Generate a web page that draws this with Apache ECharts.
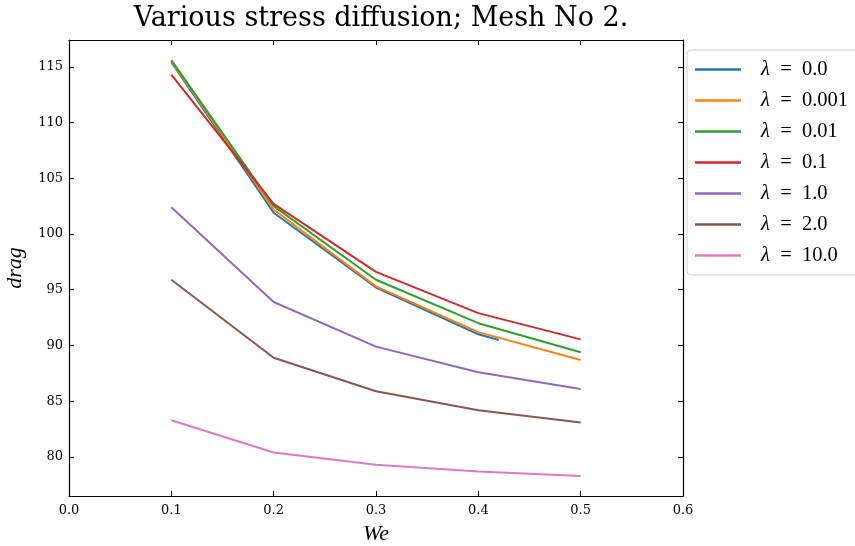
<!DOCTYPE html>
<html><head><meta charset="utf-8">
<script src="https://cdn.jsdelivr.net/npm/echarts@6/dist/echarts.min.js"></script>
<style>html,body{margin:0;padding:0;background:#fff}#c{width:855px;height:546px}</style>
</head><body><div id="c"></div>
<script>
const we = [0.1, 0.2, 0.3, 0.4, 0.5];
const weBlue = [0.1, 0.2, 0.3, 0.4, 0.42];
const lambdas = ['0.0', '0.001', '0.01', '0.1', '1.0', '2.0', '10.0'];
const drag_0 = [115.4, 101.9, 95.2, 91.0, 90.5];
const drag_0001 = [115.5, 102.2, 95.3, 91.2, 88.7];
const drag_001 = [115.6, 102.5, 95.9, 92.0, 89.4];
const drag_01 = [114.3, 102.7, 96.6, 92.9, 90.55];
const drag_1 = [102.4, 93.9, 89.9, 87.6, 86.1];
const drag_2 = [95.9, 88.9, 85.9, 84.2, 83.1];
const drag_10 = [83.3, 80.4, 79.3, 78.7, 78.3];
const yTicks = [80, 85, 90, 95, 100, 105, 110, 115];
const colors = ['#1f77b4', '#ff7f0e', '#2ca02c', '#d62728', '#9467bd', '#8c564b', '#e377c2'];

const seriesY = [drag_0, drag_0001, drag_001, drag_01, drag_1, drag_2, drag_10];
const seriesX = [weBlue, we, we, we, we, we, we];
const font = 'DejaVu Serif';

const chart = echarts.init(document.getElementById('c'));
const line = {show: true, onZero: false, lineStyle: {color: '#000', width: 1.2}};
const tick = {show: true, inside: true, length: 5, lineStyle: {color: '#000', width: 1}};
chart.setOption({
  animation: false,
  color: colors,
  title: {
    text: 'Various stress diffusion; Mesh No 2.',
    left: 376, top: 0, textAlign: 'center',
    textStyle: {fontFamily: 'DejaVu Serif', fontWeight: 'normal', fontSize: 27, color: '#000'}
  },
  legend: {
    orient: 'vertical', left: 687, top: 50,
    padding: [9, 20, 9, 8],
    backgroundColor: '#fff',
    borderColor: '#cccccc', borderWidth: 1, borderRadius: 4,
    itemWidth: 46, itemHeight: 2.5, itemGap: 10,
    icon: 'rect',
    data: lambdas.map(l => 'λ = ' + l),
    formatter: n => '{i|λ}  =  ' + n.slice(4),
    textStyle: {
      fontFamily: 'Liberation Serif', fontSize: 20.5, color: '#000', lineHeight: 21, padding: [0, 0, 0, 15],
      rich: {i: {fontFamily: 'Liberation Serif', fontStyle: 'italic', fontSize: 20.5, lineHeight: 21}}
    }
  },
  grid: {left: 69, right: 172, top: 40, bottom: 50, containLabel: false, outerBoundsMode: 'none'},
  xAxis: [
    {
      type: 'value', min: 0, max: 0.6, interval: 0.1,
      axisLine: line, axisTick: tick, splitLine: {show: false},
      name: 'We', nameLocation: 'middle', nameGap: 27,
      nameTextStyle: {fontFamily: 'Liberation Serif', fontStyle: 'italic', fontSize: 22, color: '#000'},
      axisLabel: {fontFamily: font, fontSize: 13, color: '#000', margin: 8, formatter: v => v.toFixed(1)}
    },
    {
      type: 'value', position: 'top', min: 0, max: 0.6, interval: 0.1,
      axisLine: line, axisTick: tick, splitLine: {show: false},
      axisLabel: {show: false}
    }
  ],
  yAxis: [
    {
      type: 'value', min: 76.5, max: 117.4,
      axisLine: line, splitLine: {show: false},
      name: 'drag', nameLocation: 'middle', nameGap: 43, nameRotate: 90,
      nameTextStyle: {fontFamily: 'Liberation Serif', fontStyle: 'italic', fontSize: 22, color: '#000'},
      axisTick: Object.assign({customValues: yTicks}, tick),
      axisLabel: {fontFamily: font, fontSize: 13, color: '#000', margin: 6, customValues: yTicks}
    },
    {
      type: 'value', position: 'right', min: 76.5, max: 117.4,
      axisLine: line, splitLine: {show: false},
      axisTick: Object.assign({customValues: yTicks}, tick),
      axisLabel: {show: false, customValues: yTicks}
    }
  ],
  series: seriesY.map((ys, i) => ({
    name: 'λ = ' + lambdas[i],
    type: 'line',
    showSymbol: false,
    symbol: 'none',
    lineStyle: {width: 2, color: colors[i]},
    itemStyle: {color: colors[i]},
    data: ys.map((y, j) => [seriesX[i][j], y])
  }))
});
</script>
</body></html>
